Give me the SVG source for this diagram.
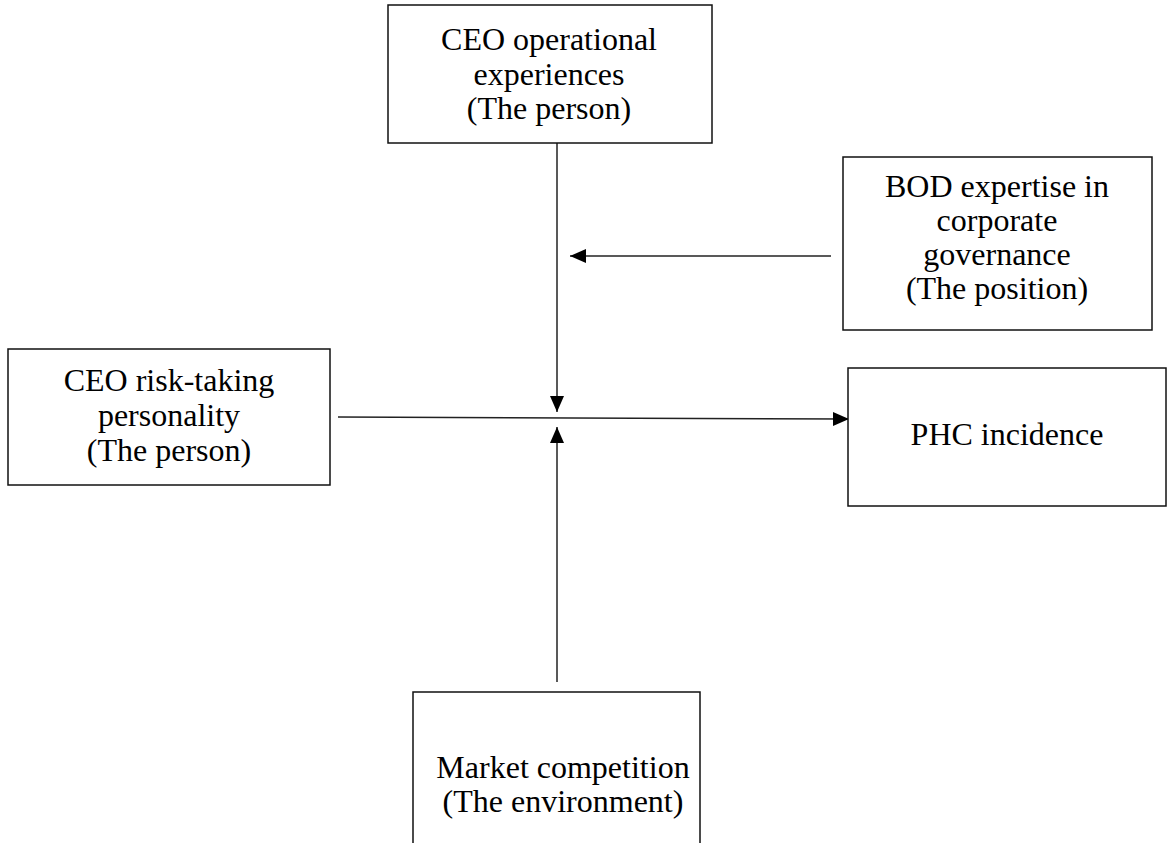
<svg xmlns="http://www.w3.org/2000/svg" width="1167" height="843" viewBox="0 0 1167 843">
<style>
.box{fill:#fff;stroke:#111;stroke-width:1.5}
.t{font-family:"Liberation Serif","Times New Roman",serif;font-size:32px;fill:#000;text-anchor:middle}
.c{stroke:#222;stroke-width:1.5;fill:none}
</style>
<defs>
<marker id="ah" markerUnits="userSpaceOnUse" markerWidth="16" markerHeight="16" viewBox="0 0 16 16" refX="16" refY="8" orient="auto">
<path d="M0,1 L16,8 L0,15 Z" fill="#000"/>
</marker>
</defs>
<rect width="1167" height="843" fill="#fff"/>
<g id="connectors">
<line class="c" x1="557" y1="143" x2="557" y2="412" marker-end="url(#ah)"/>
<line class="c" x1="831" y1="256" x2="570" y2="256" marker-end="url(#ah)"/>
<line class="c" x1="338" y1="417" x2="849" y2="419" marker-end="url(#ah)"/>
<line class="c" x1="557" y1="682" x2="557" y2="427" marker-end="url(#ah)"/>
</g>
<g id="ceo-operational">
<rect class="box" x="388" y="5" width="324" height="138"/>
<text class="t" x="549" y="50">CEO operational</text>
<text class="t" x="549" y="85">experiences</text>
<text class="t" x="549" y="119">(The person)</text>
</g>
<g id="bod-expertise">
<rect class="box" x="843" y="157" width="309" height="173"/>
<text class="t" x="997" y="197">BOD expertise in</text>
<text class="t" x="997" y="231">corporate</text>
<text class="t" x="997" y="265">governance</text>
<text class="t" x="997" y="299">(The position)</text>
</g>
<g id="ceo-risk">
<rect class="box" x="8" y="349" width="322" height="136"/>
<text class="t" x="169" y="391">CEO risk-taking</text>
<text class="t" x="169" y="426">personality</text>
<text class="t" x="169" y="461">(The person)</text>
</g>
<g id="phc">
<rect class="box" x="848" y="368" width="318" height="138"/>
<text class="t" x="1007" y="445">PHC incidence</text>
</g>
<g id="market">
<rect class="box" x="413" y="692" width="287" height="160"/>
<text class="t" x="563" y="778">Market competition</text>
<text class="t" x="563" y="812">(The environment)</text>
</g>
</svg>
